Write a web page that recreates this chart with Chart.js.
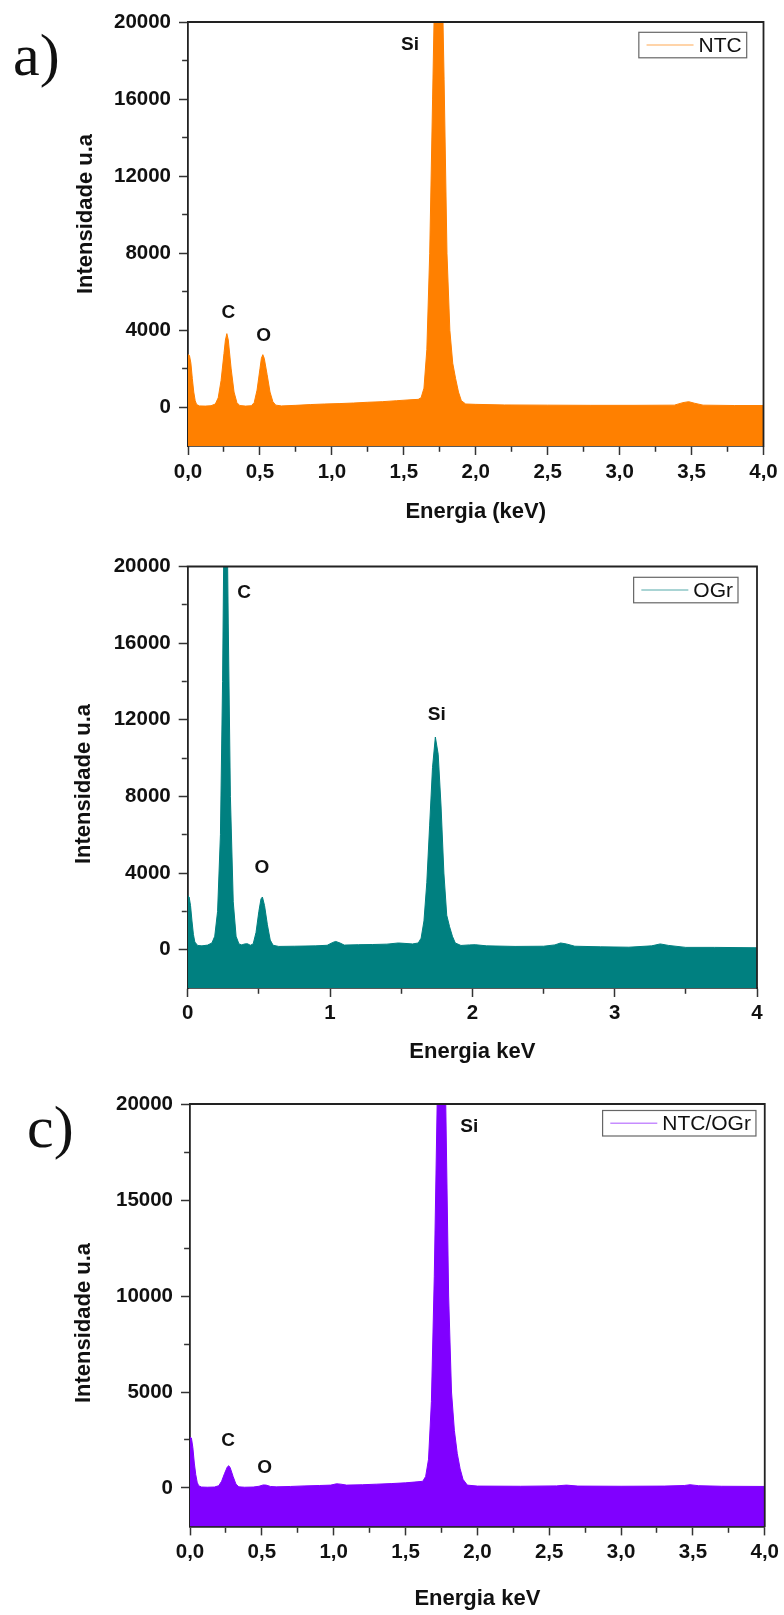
<!DOCTYPE html>
<html><head><meta charset="utf-8">
<script src="https://cdn.jsdelivr.net/npm/chart.js@4.4.1/dist/chart.umd.min.js"></script>
<style>
html,body{margin:0;padding:0;background:#fff;}
#wrap{position:relative;width:784px;height:1615px;overflow:hidden;background:#fff;}
canvas{position:absolute;left:0;}
</style></head><body>
<div id="wrap">
<canvas id="cA" width="784" height="530" style="top:0px;width:784px;height:530px"></canvas>
<canvas id="cB" width="784" height="540" style="top:530px;width:784px;height:540px"></canvas>
<canvas id="cC" width="784" height="545" style="top:1070px;width:784px;height:545px"></canvas>
</div>
<script>
// ---------- data ----------
const energyNTC = [0.00,0.01,0.02,0.03,0.04,0.05,0.06,0.08,0.12,0.16,0.19,0.21,0.23,0.25,0.26,0.27,0.28,0.30,0.32,0.34,0.36,0.40,0.44,0.46,0.48,0.50,0.51,0.52,0.53,0.55,0.57,0.59,0.61,0.65,0.75,0.85,0.95,1.05,1.15,1.25,1.35,1.45,1.55,1.60,1.62,1.64,1.66,1.68,1.70,1.72,1.74,1.76,1.78,1.80,1.82,1.84,1.86,1.88,1.90,1.93,2.00,2.20,2.50,2.80,3.10,3.38,3.44,3.48,3.52,3.58,3.80,4.00];
const countsNTC = [2740,2700,2300,1500,800,350,150,80,70,90,180,500,1400,2800,3500,3830,3500,2000,800,250,100,70,90,250,900,2000,2550,2740,2550,1700,800,300,120,80,110,150,180,200,230,270,300,350,400,420,500,1000,3000,8000,16000,24000,27000,25000,17000,8000,4000,2300,1500,800,350,180,160,130,120,110,110,120,250,300,220,120,100,100];

const energyOGr = [0.00,0.01,0.02,0.03,0.04,0.05,0.07,0.10,0.14,0.17,0.19,0.21,0.23,0.245,0.255,0.265,0.275,0.285,0.30,0.32,0.34,0.36,0.38,0.40,0.42,0.44,0.46,0.48,0.50,0.515,0.525,0.54,0.56,0.58,0.60,0.64,0.75,0.90,0.98,1.02,1.04,1.07,1.10,1.20,1.30,1.40,1.48,1.52,1.58,1.62,1.64,1.66,1.68,1.70,1.72,1.74,1.76,1.78,1.80,1.82,1.84,1.86,1.88,1.92,1.98,2.02,2.10,2.30,2.50,2.58,2.62,2.66,2.72,2.90,3.10,3.26,3.32,3.38,3.50,3.70,4.00];
const countsOGr = [2820,2750,2300,1500,800,400,220,200,240,350,700,2000,6000,14000,22000,26000,24000,17000,8000,2500,700,300,250,300,310,230,300,900,2000,2650,2750,2300,1300,500,230,170,180,200,230,380,430,350,240,260,270,290,350,330,300,350,600,1500,3500,6500,9500,11100,10200,7500,4000,1800,1200,700,350,220,250,260,200,170,180,250,350,300,180,150,130,200,300,220,120,120,100];

const energyMix = [0.00,0.01,0.02,0.03,0.04,0.05,0.06,0.08,0.12,0.17,0.20,0.22,0.24,0.26,0.27,0.28,0.30,0.32,0.34,0.38,0.44,0.48,0.51,0.53,0.56,0.60,0.70,0.80,0.90,0.98,1.02,1.05,1.09,1.20,1.30,1.40,1.50,1.58,1.62,1.64,1.66,1.68,1.70,1.72,1.74,1.76,1.78,1.80,1.82,1.84,1.86,1.88,1.90,1.93,2.00,2.30,2.55,2.62,2.70,3.00,3.30,3.44,3.48,3.54,3.70,4.00];
const countsMix = [2640,2600,2100,1300,700,300,120,50,40,50,120,350,750,1100,1160,1050,600,200,60,40,50,90,160,150,80,60,80,110,130,150,220,200,150,170,200,230,270,320,350,600,1500,4500,11000,20000,26000,26000,20000,10000,5000,3000,1800,1000,450,150,100,90,110,150,100,90,100,130,170,120,90,80];

// ---------- ticks ----------
const yMajorAB = [0,4000,8000,12000,16000,20000];
const yMinorAB = [2000,6000,10000,14000,18000];
const yLabelsAB = ['0','4000','8000','12000','16000','20000'];
const yMajorC = [0,5000,10000,15000,20000];
const yMinorC = [2500,7500,12500,17500];
const yLabelsC = ['0','5000','10000','15000','20000'];
const xMajorAC = [0,0.5,1,1.5,2,2.5,3,3.5,4];
const xMinorAC = [0.25,0.75,1.25,1.75,2.25,2.75,3.25,3.75];
const xLabelsAC = ['0,0','0,5','1,0','1,5','2,0','2,5','3,0','3,5','4,0'];
const xMajorB = [0,1,2,3,4];
const xMinorB = [0.5,1.5,2.5,3.5];
const xLabelsB = ['0','1','2','3','4'];

// ---------- helpers ----------
const SANS = "'Liberation Sans', Arial, sans-serif";
const SERIF = "'Liberation Serif', 'Times New Roman', serif";
const TICK_LEN = 9, MINOR_LEN = 5;

function near(a,b){return Math.abs(a-b)<1e-9;}
function isIn(v, arr){return arr.some(a=>near(a,v));}
function mergeTicks(major, minor){
  return [...major, ...minor].sort((a,b)=>a-b).map(v=>({value:v}));
}

const decorPlugin = {
  id: 'decor',
  afterDraw(chart, args, o) {
    const ctx = chart.ctx, a = chart.chartArea;
    ctx.save();
    // top and right frame lines
    ctx.strokeStyle = '#222'; ctx.lineWidth = 1.8; ctx.setLineDash([]);
    ctx.beginPath(); ctx.moveTo(a.left-0.9, a.top); ctx.lineTo(a.right, a.top); ctx.lineTo(a.right, a.bottom+0.9); ctx.stroke();
    // y axis title
    if (o.yTitle) {
      ctx.save();
      ctx.translate(o.yTitle.x, o.yTitle.y); ctx.rotate(-Math.PI/2);
      ctx.fillStyle = '#111'; ctx.font = 'bold 22px ' + SANS;
      ctx.textAlign = 'center'; ctx.textBaseline = 'middle';
      ctx.fillText(o.yTitle.text, 0, 0);
      ctx.restore();
    }
    // peak annotations
    ctx.fillStyle = '#111'; ctx.font = 'bold 19px ' + SANS;
    ctx.textAlign = 'center'; ctx.textBaseline = 'middle';
    const sx = chart.scales.x, sy = chart.scales.y;
    (o.peaks||[]).forEach(p => ctx.fillText(p.text, sx.getPixelForValue(p.x), sy.getPixelForValue(p.y)));
    // legend box
    const ds = chart.data.datasets[0];
    const lg = o.legend;
    ctx.font = '21px ' + SANS;
    const tw = ctx.measureText(ds.label).width;
    const w = 7.7 + 47 + 5 + tw + 5, h = 25.5;
    const bx = a.right - lg.right - w, by = a.top + lg.top;
    ctx.fillStyle = '#fff'; ctx.fillRect(bx, by, w, h);
    ctx.strokeStyle = '#666'; ctx.lineWidth = 1.2; ctx.strokeRect(bx, by, w, h);
    ctx.globalAlpha = 0.45; ctx.strokeStyle = ds.borderColor; ctx.lineWidth = 1.6;
    ctx.beginPath(); ctx.moveTo(bx+7.7, by+h/2); ctx.lineTo(bx+7.7+47, by+h/2); ctx.stroke();
    ctx.globalAlpha = 1; ctx.fillStyle = '#111'; ctx.textAlign = 'left'; ctx.textBaseline = 'middle';
    ctx.fillText(ds.label, bx+7.7+47+5, by+h/2+1);
    // panel letter
    if (o.panel) {
      ctx.font = '60px ' + SERIF; ctx.textBaseline = 'alphabetic'; ctx.textAlign = 'left';
      ctx.fillText(o.panel.text, o.panel.x, o.panel.y);
    }
    ctx.restore();
  }
};

function makeChart(id, c) {
  const data = c.energy.map((x,i)=>({x:x, y:c.counts[i]}));
  const tickFont = {family: SANS, size: 20.5, weight: 'bold'};
  const titleFont = {family: SANS, size: 22, weight: 'bold'};
  return new Chart(document.getElementById(id), {
    type: 'line',
    data: { datasets: [{
      label: c.label, data: data,
      borderColor: c.color, backgroundColor: c.color,
      borderWidth: 1, pointRadius: 0, tension: 0, fill: 'start'
    }]},
    options: {
      responsive: false, animation: false, devicePixelRatio: 1,
      layout: { padding: c.pad },
      plugins: { legend: {display:false}, tooltip: {enabled:false},
        decor: { peaks: c.peaks, legend: c.legend, panel: c.panel, yTitle: c.yTitle } },
      scales: {
        x: {
          type: 'linear', min: 0, max: 4,
          afterBuildTicks: s => { s.ticks = mergeTicks(c.xMajor, c.xMinor); },
          afterFit: s => { s.height = c.xAxisH; },
          ticks: { autoSkip: false, maxRotation: 0, minRotation: 0, padding: c.xTickPad, color: '#111', font: tickFont,
            callback: v => { const i = c.xMajor.findIndex(m=>near(m,v)); return i>=0 ? c.xLabels[i] : ''; } },
          grid: { drawOnChartArea: false, drawTicks: true, tickLength: TICK_LEN, tickWidth: 1.5, tickColor: '#333',
            tickBorderDash: ctx => (ctx.tick && isIn(ctx.tick.value, c.xMinor)) ? [MINOR_LEN, 60] : [] },
          border: { display: true, color: '#222', width: 1.8 },
          title: { display: true, text: c.xTitle, color: '#111', font: titleFont, padding: {top: 0, bottom: c.xTitlePad} }
        },
        y: {
          type: 'linear', min: -2000, max: 20000,
          afterBuildTicks: s => { s.ticks = mergeTicks(c.yMajor, c.yMinor); },
          afterFit: s => { s.width = c.yAxisW; },
          ticks: { padding: 8, color: '#111', font: tickFont,
            callback: v => { const i = c.yMajor.findIndex(m=>near(m,v)); return i>=0 ? c.yLabels[i] : ''; } },
          grid: { drawOnChartArea: false, drawTicks: true, tickLength: TICK_LEN, tickWidth: 1.5, tickColor: '#333',
            tickBorderDash: ctx => (ctx.tick && isIn(ctx.tick.value, c.yMinor)) ? [MINOR_LEN, 60] : [],
            tickBorderDashOffset: ctx => (ctx.tick && isIn(ctx.tick.value, c.yMinor)) ? (MINOR_LEN + 60) - (TICK_LEN - 0.9 - MINOR_LEN) : 0 },
          border: { display: true, color: '#222', width: 1.8 },
          title: { display: false }
        }
      }
    },
    plugins: [decorPlugin]
  });
}

makeChart('cA', {
  energy: energyNTC, counts: countsNTC, label: 'NTC', color: 'rgb(255,128,0)',
  yMajor: yMajorAB, yMinor: yMinorAB, yLabels: yLabelsAB,
  xMajor: xMajorAC, xMinor: xMinorAC, xLabels: xLabelsAC, xTitle: 'Energia (keV)',
  pad: {left: 60, top: 22, right: 20.5, bottom: 0}, yAxisW: 128, xAxisH: 84,
  xTickPad: 5, xTitlePad: 4.8,
  yTitle: {text: 'Intensidade u.a', x: 86, y: 214},
  peaks: [{text:'Si', x:1.543, y:18800}, {text:'C', x:0.280, y:4920}, {text:'O', x:0.526, y:3740}],
  legend: {right: 16.8, top: 10.3},
  panel: {text: 'a)', x: 13, y: 75}
});

makeChart('cB', {
  energy: energyOGr, counts: countsOGr, label: 'OGr', color: 'rgb(0,128,128)',
  yMajor: yMajorAB, yMinor: yMinorAB, yLabels: yLabelsAB,
  xMajor: xMajorB, xMinor: xMinorB, xLabels: xLabelsB, xTitle: 'Energia keV',
  pad: {left: 60, top: 36.5, right: 27, bottom: 0}, yAxisW: 127.7, xAxisH: 82,
  xTickPad: 4.5, xTitlePad: 5.3,
  yTitle: {text: 'Intensidade u.a', x: 84, y: 254},
  peaks: [{text:'C', x:0.396, y:18620}, {text:'O', x:0.522, y:4280}, {text:'Si', x:1.75, y:12240}],
  legend: {right: 19, top: 10.8},
  panel: null
});

makeChart('cC', {
  energy: energyMix, counts: countsMix, label: 'NTC/OGr', color: 'rgb(128,0,255)',
  yMajor: yMajorC, yMinor: yMinorC, yLabels: yLabelsC,
  xMajor: xMajorAC, xMinor: xMinorAC, xLabels: xLabelsAC, xTitle: 'Energia keV',
  pad: {left: 60, top: 34, right: 17.5, bottom: 0}, yAxisW: 130, xAxisH: 88.6,
  xTickPad: 5, xTitlePad: 2.8,
  yTitle: {text: 'Intensidade u.a', x: 84, y: 253},
  peaks: [{text:'Si', x:1.943, y:18840}, {text:'C', x:0.266, y:2450}, {text:'O', x:0.52, y:1040}],
  legend: {right: 8.8, top: 6.5},
  panel: {text: 'c)', x: 27, y: 77}
});
</script>
</body></html>
